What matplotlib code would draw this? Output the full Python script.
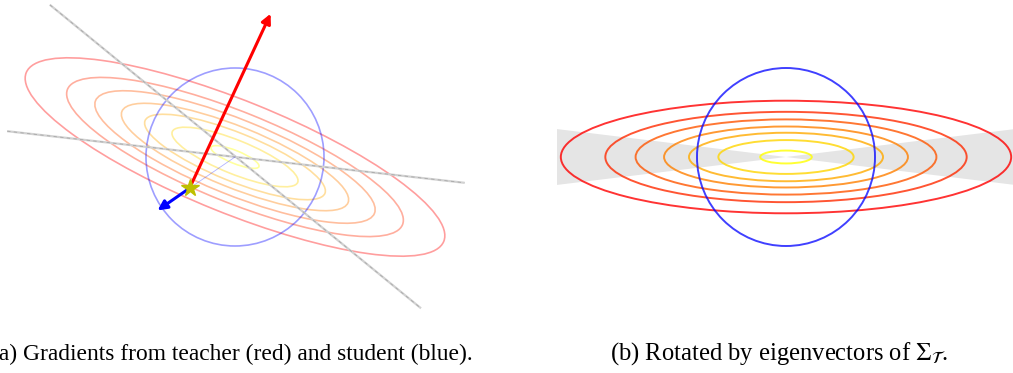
import numpy as np
import matplotlib.pyplot as plt
from matplotlib.patches import Ellipse, Circle, Polygon

plt.rcParams['mathtext.fontset'] = 'stix'

# contour ellipses (units: student circle radius = 1)
semi_major = [2.53, 2.03, 1.69, 1.37, 1.09, 0.76, 0.29]
axis_ratio = 4.0
tilt_deg = -22.0
circle_r = 1.0

# student position and gradients (panel a)
star = [-0.51, -0.35]
grad_teacher = [0.91, 1.96]
grad_student = [-0.36, -0.25]

# grey lines through the centre (panel a)
line1_x = [-2.08, 2.09]
line1_y = [1.71, -1.70]
line2_x = [-2.56, 2.58]
line2_y = [0.29, -0.29]

# shaded cone in panel b
cone_slope = 0.122
cone_reach = 2.7

captions = ['(a) Gradients from teacher (red) and student (blue).',
            r'(b) Rotated by eigenvectors of $\Sigma_{\mathcal{T}}$.']

W, H = 1013, 373
px = 89.0
fig = plt.figure(figsize=(W / 100, H / 100), dpi=100)

colors = plt.cm.autumn(np.linspace(0, 1, len(semi_major)))

# ---- panel (a)
cx, cy = 235, H - 157
axL = fig.add_axes([0, 0, 506 / W, 1])
axL.set_xlim(-cx / px, (506 - cx) / px)
axL.set_ylim(-cy / px, (H - cy) / px)
axL.axis('off')

for a, c in zip(semi_major, colors):
    axL.add_patch(Ellipse((0, 0), 2 * a, 2 * a / axis_ratio, angle=tilt_deg,
                          fill=False, ec=c, lw=1.2, alpha=0.38))
axL.add_patch(Circle((0, 0), circle_r, fill=False, ec='blue', lw=1.2, alpha=0.38))

for xs, ys in [(line1_x, line1_y), (line2_x, line2_y)]:
    axL.plot(xs, ys, color='#d2d2d2', lw=1.6, solid_capstyle='butt')
    axL.plot(xs, ys, color='#a8a8a8', lw=0.6, ls=(0, (4, 4)))

axL.plot([star[0], 0], [star[1], 0], color='blue', lw=0.6, alpha=0.3)
axL.annotate('', xy=(star[0] + grad_teacher[0], star[1] + grad_teacher[1]), xytext=star,
             arrowprops=dict(arrowstyle='-|>', color='red', lw=2.2, mutation_scale=14,
                             shrinkA=0, shrinkB=0))
axL.annotate('', xy=(star[0] + grad_student[0], star[1] + grad_student[1]), xytext=star,
             arrowprops=dict(arrowstyle='-|>', color='blue', lw=2.2, mutation_scale=14,
                             shrinkA=0, shrinkB=0))
axL.plot(star[0], star[1], '*', color=(0.75, 0.75, 0), ms=13, zorder=5)

# ---- panel (b)
cx2 = 786 - 557
axR = fig.add_axes([557 / W, 0, (W - 557) / W, 1])
axR.set_xlim(-cx2 / px, (W - 557 - cx2) / px)
axR.set_ylim(-cy / px, (H - cy) / px)
axR.axis('off')

for sgn in [-1, 1]:
    axR.add_patch(Polygon([[0, 0], [sgn * cone_reach, cone_slope * cone_reach],
                           [sgn * cone_reach, -cone_slope * cone_reach]],
                          closed=True, fc='#e5e5e5', ec='none'))
for a, c in zip(semi_major, colors):
    axR.add_patch(Ellipse((0, 0), 2 * a, 2 * a / axis_ratio, angle=0,
                          fill=False, ec=c, lw=1.4, alpha=0.8))
axR.add_patch(Circle((0, 0), circle_r, fill=False, ec='blue', lw=1.4, alpha=0.75))

# captions (the left one runs off the page edge, as in the source figure)
fig.text(473 / W, 1 - 360 / H, captions[0], ha='right', va='baseline',
         fontsize=16.9, family='Liberation Serif')
fig.text(779 / W, 1 - 360 / H, captions[1], ha='center', va='baseline',
         fontsize=17.7, family='Liberation Serif')

fig.savefig('out.png', dpi=100)
